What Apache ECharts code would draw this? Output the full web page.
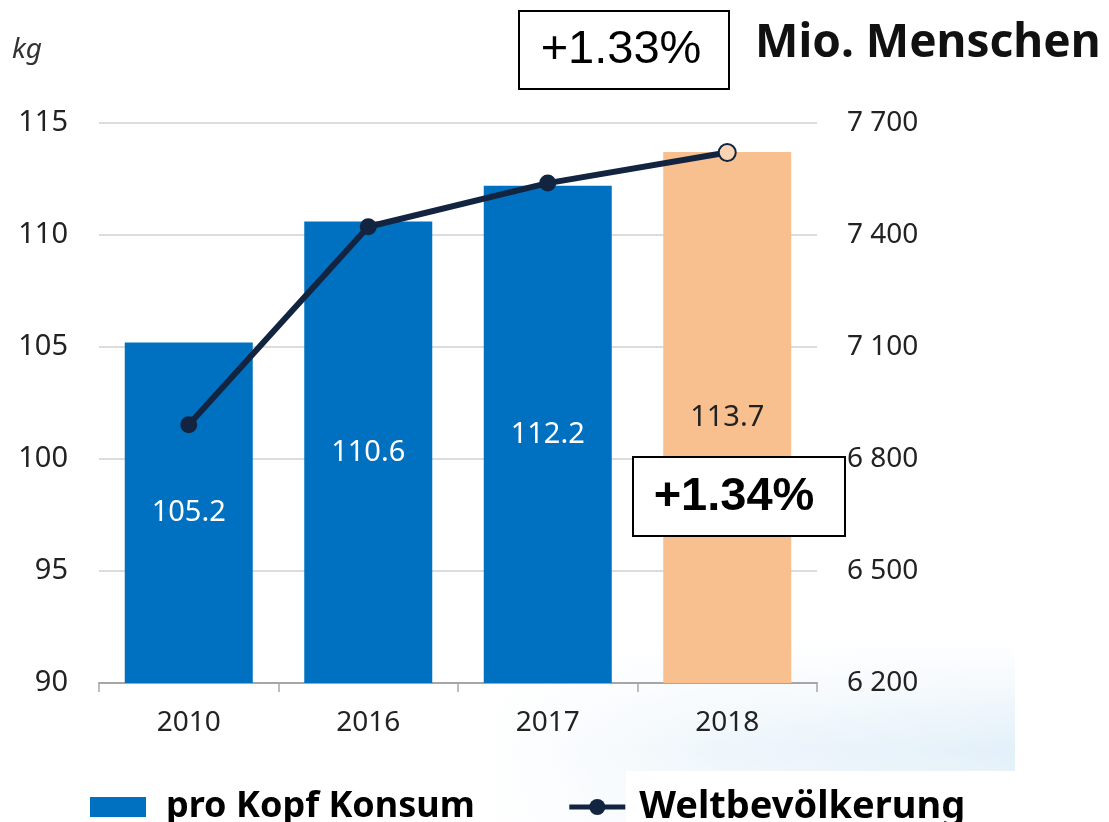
<!DOCTYPE html>
<html>
<head>
<meta charset="utf-8">
<script src="https://cdn.jsdelivr.net/npm/echarts@6/dist/echarts.min.js"></script>
<style>
  html, body { margin: 0; padding: 0; background: #fff; }
  #chart { width: 1109px; height: 822px; }
</style>
</head>
<body>
<div id="chart"></div>
<script>
const categories = ['2010', '2016', '2017', '2018'];
const consumption = [105.2, 110.6, 112.2, 113.7];
const population = [6892, 7422, 7539, 7621];
const barColors = ['#0070C0', '#0070C0', '#0070C0', '#F8C08E'];
const leftTicks = { min: 90, max: 115, interval: 5 };
const rightTicks = { min: 6200, max: 7700 };

const FONT = 'Noto Sans';
const chart = echarts.init(document.getElementById('chart'), null, { renderer: 'canvas' });

const fmtSpace = v => String(v).replace(/\B(?=(\d{3})+(?!\d))/g, ' ');

chart.setOption({
  animation: false,
  backgroundColor: '#ffffff',
  grid: { left: 99, right: 292, top: 123, bottom: 139, containLabel: false },
  xAxis: {
    type: 'category',
    data: categories,
    boundaryGap: true,
    axisLine: { show: true, lineStyle: { color: '#a6a6a6', width: 2 } },
    axisTick: { show: true, length: 9, lineStyle: { color: '#a6a6a6', width: 1.5 } },
    axisLabel: { color: '#222', fontSize: 28, fontFamily: FONT, margin: 26 }
  },
  yAxis: [
    {
      type: 'value',
      min: leftTicks.min, max: leftTicks.max, interval: leftTicks.interval,
      axisLine: { show: false },
      axisTick: { show: false },
      splitLine: { show: true, lineStyle: { color: '#d0d0d0', width: 1.5 } },
      axisLabel: { color: '#222', fontSize: 29, fontFamily: FONT, margin: 31 }
    },
    {
      type: 'value',
      min: rightTicks.min, max: rightTicks.max,
      alignTicks: true,
      axisLine: { show: false },
      axisTick: { show: false },
      splitLine: { show: false },
      axisLabel: { color: '#222', fontSize: 28, fontFamily: FONT, margin: 30, formatter: fmtSpace }
    }
  ],
  legend: {
    left: 85, top: 780,
    itemWidth: 56, itemHeight: 20, itemGap: 92,
    textStyle: { fontSize: 36, fontWeight: 'bold', color: '#000', fontFamily: FONT, lineHeight: 44 },
    data: [
      { name: 'pro Kopf Konsum', icon: 'rect', itemStyle: { color: '#0070C0' }, textStyle: { fontSize: 36, padding: [0, 0, 0, 15] } },
      { name: 'Weltbevölkerung', lineStyle: { width: 5, color: '#122440' }, itemStyle: { color: '#122440' }, textStyle: { fontSize: 38, padding: [0, 0, 0, 9] } }
    ]
  },
  series: [
    {
      name: 'pro Kopf Konsum',
      type: 'bar',
      yAxisIndex: 0,
      barWidth: 128,
      itemStyle: { color: '#0070C0' },
      data: consumption.map((v, i) => ({
        value: v,
        itemStyle: { color: barColors[i] },
        label: { color: i === 3 ? '#222' : '#ffffff' }
      })),
      label: { show: true, position: 'inside', fontSize: 29, fontFamily: FONT, color: '#fff' }
    },
    {
      name: 'Weltbevölkerung',
      type: 'line',
      yAxisIndex: 1,
      z: 5,
      symbol: 'circle',
      symbolSize: 17,
      lineStyle: { color: '#122440', width: 6 },
      itemStyle: { color: '#122440' },
      data: population.map((v, i) => i === 3
        ? { value: v, itemStyle: { color: '#fbd5b3', borderColor: '#122440', borderWidth: 2 } }
        : { value: v })
    }
  ],
  graphic: {
    elements: [
      {
        type: 'rect', z: -10, silent: true,
        shape: { x: 480, y: 640, width: 535, height: 182 },
        style: {
          fill: new echarts.graphic.LinearGradient(0, 0, 0, 1, [
            { offset: 0, color: 'rgba(222,238,248,0)' },
            { offset: 0.6, color: 'rgba(218,235,247,0.75)' },
            { offset: 1, color: 'rgba(225,239,249,0.6)' }
          ])
        }
      },
      {
        type: 'rect', z: -8, silent: true,
        shape: { x: 480, y: 640, width: 535, height: 182 },
        style: {
          fill: new echarts.graphic.LinearGradient(0, 0, 1, 0, [
            { offset: 0, color: 'rgba(255,255,255,1)' },
            { offset: 0.45, color: 'rgba(255,255,255,0.4)' },
            { offset: 1, color: 'rgba(255,255,255,0)' }
          ])
        }
      },
      {
        type: 'rect', z: -5, silent: true,
        shape: { x: 626, y: 771, width: 389, height: 51 },
        style: { fill: '#ffffff' }
      },
      {
        type: 'text', left: 12, top: 36,
        style: { text: 'kg', fontSize: 28, fontStyle: 'italic', fill: '#333', fontFamily: FONT }
      },
      {
        type: 'rect',
        shape: { x: 519, y: 11, width: 210, height: 78 },
        style: { fill: '#fff', stroke: '#000', lineWidth: 2 }
      },
      {
        type: 'text', x: 621, y: 50,
        style: { text: '+1.33%', fontSize: 47, fontFamily: 'Liberation Sans', fill: '#000', align: 'center', verticalAlign: 'middle' }
      },
      {
        type: 'text', x: 755, y: 44,
        style: { text: 'Mio. Menschen', fontSize: 46, fontWeight: 'bold', fontFamily: FONT, fill: '#111', verticalAlign: 'middle' }
      },
      {
        type: 'rect', z: 10,
        shape: { x: 633, y: 457, width: 212, height: 79 },
        style: { fill: '#fff', stroke: '#000', lineWidth: 2 }
      },
      {
        type: 'text', z: 11, x: 734, y: 497,
        style: { text: '+1.34%', fontSize: 47, fontWeight: 'bold', fontFamily: 'Liberation Sans', fill: '#000', align: 'center', verticalAlign: 'middle' }
      }
    ]
  }
});
</script>
</body>
</html>
